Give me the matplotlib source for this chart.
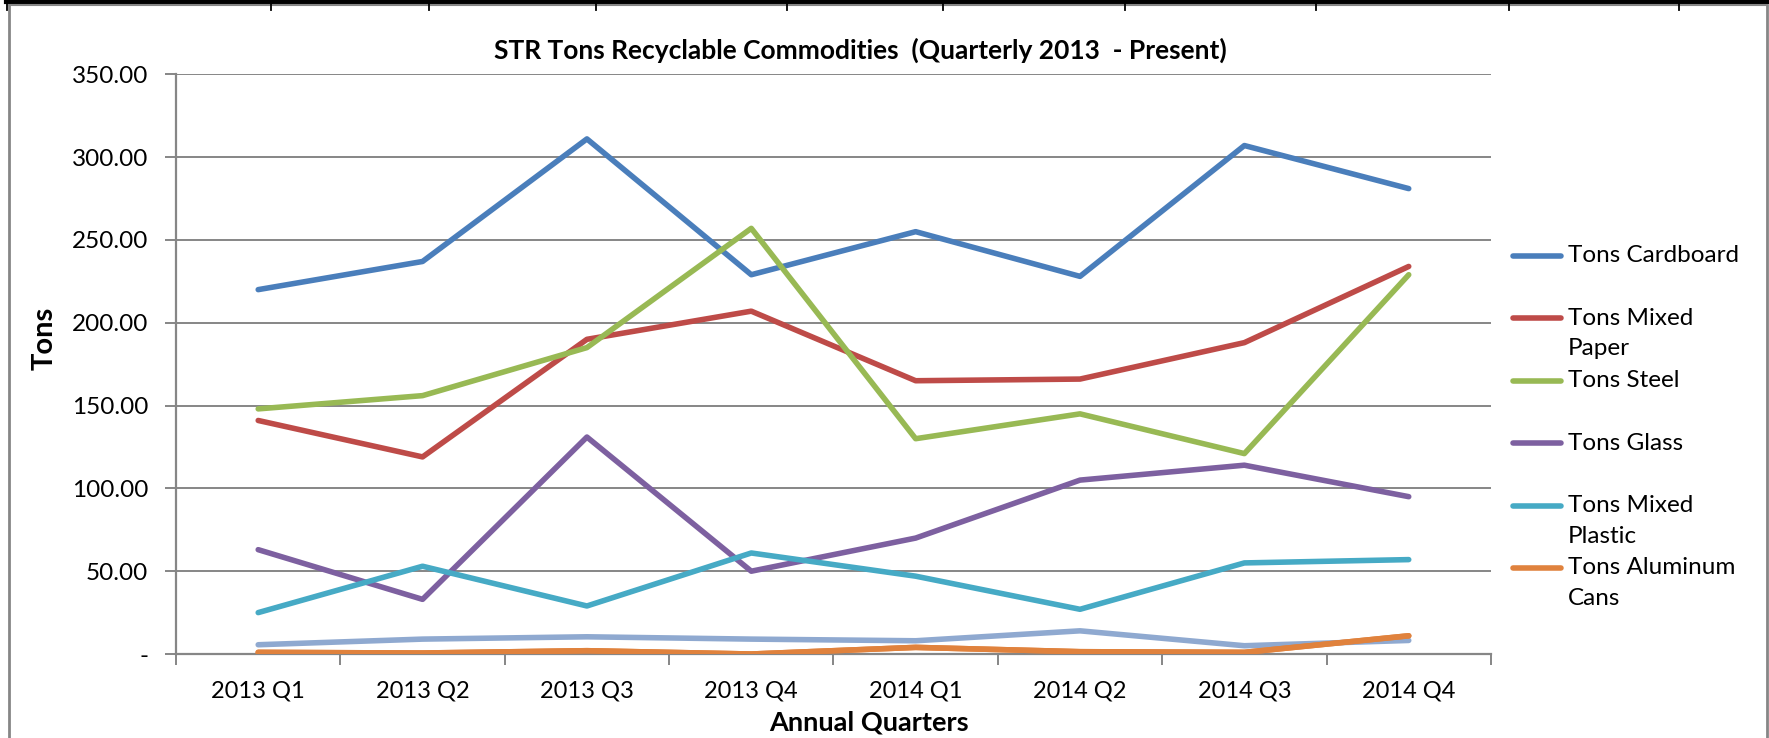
import matplotlib.pyplot as plt
from matplotlib.lines import Line2D
from matplotlib.ticker import FixedLocator, FuncFormatter

plt.rcParams['font.family'] = ['Lato', 'DejaVu Sans']

quarters = ["2013 Q1", "2013 Q2", "2013 Q3", "2013 Q4",
            "2014 Q1", "2014 Q2", "2014 Q3", "2014 Q4"]

cardboard = [220, 237, 311, 229, 255, 228, 307, 281]
mixed_paper = [141, 119, 190, 207, 165, 166, 188, 234]
steel = [148, 156, 185, 257, 130, 145, 121, 229]
glass = [63, 33, 131, 50, 70, 105, 114, 95]
mixed_plastic = [25, 53, 29, 61, 47, 27, 55, 57]
aluminum = [1, 0.6, 2, 0, 4, 1.4, 1, 11]
other = [5.6, 9, 10.4, 9, 8, 14, 5, 8.2]

series_labels = ["Tons Cardboard", "Tons Mixed\nPaper", "Tons Steel",
                 "Tons Glass", "Tons Mixed\nPlastic", "Tons Aluminum\nCans"]
series = [cardboard, mixed_paper, steel, glass, mixed_plastic, aluminum]
colors = ["#4A7EBB", "#BE4B48", "#98B954", "#7D60A0", "#46AAC5", "#E0823D"]
other_color = "#8FA9D0"

fig = plt.figure(figsize=(17.69, 7.38), dpi=100)
ax = fig.add_axes([0.0995, 0.1138, 0.7433, 0.7855])

x = list(range(len(quarters)))
ax.plot(x, other, color=other_color, lw=4, solid_capstyle="round", zorder=3)
for vals, c in zip(series, colors):
    ax.plot(x, vals, color=c, lw=4, solid_capstyle="round", zorder=3)
# aluminium drawn on top of the unlabeled series
ax.plot(x, aluminum, color=colors[5], lw=4, solid_capstyle="round", zorder=4)

ax.set_xlim(-0.5, len(quarters) - 0.5)
ax.set_ylim(0, 350)
ax.set_yticks(range(0, 351, 50))
ax.yaxis.set_major_formatter(FuncFormatter(lambda v, p: "-" if v == 0 else f"{v:.2f}"))
ax.grid(axis="y", color="#868686", lw=1.4, zorder=1)

ax.xaxis.set_major_locator(FixedLocator([i - 0.5 for i in range(len(quarters) + 1)]))
ax.xaxis.set_major_formatter(FuncFormatter(lambda v, p: ""))
ax.xaxis.set_minor_locator(FixedLocator(x))
ax.set_xticklabels(quarters, minor=True)
ax.tick_params(axis="x", which="major", length=8, width=1.4, color="#868686")
ax.tick_params(axis="x", which="minor", length=0, pad=19, labelsize=17)
ax.tick_params(axis="y", length=8, width=1.4, color="#868686", labelsize=17.5, pad=12)

for s in ["top", "right"]:
    ax.spines[s].set_visible(False)
for s in ["left", "bottom"]:
    ax.spines[s].set_color("#868686")
    ax.spines[s].set_linewidth(1.6)

fig.text(860 / 1769, 1 - 50 / 738, "STR Tons Recyclable Commodities  (Quarterly 2013  - Present)",
         ha="center", va="center", fontsize=19, fontweight="bold")
fig.text(45 / 1769, 1 - 338 / 738, "Tons", rotation=90, ha="center", va="center",
         fontsize=21, fontweight="bold")
fig.text(869 / 1769, 1 - 722 / 738, "Annual Quarters", ha="center", va="center",
         fontsize=19.5, fontweight="bold")

# legend, laid out like the spreadsheet one
for i, (lab, c) in enumerate(zip(series_labels, colors)):
    yy = 1 - (256 + i * 62.4) / 738
    fig.add_artist(Line2D([1513 / 1769, 1561 / 1769], [yy, yy], color=c, lw=4,
                          solid_capstyle="round"))
    for j, part in enumerate(lab.split("\n")):
        fig.text(1568 / 1769, yy - j * 30.5 / 738, part, ha="left", va="center",
                 fontsize=17.5)

# chart frame and sheet cell borders
H = 738.0
W = 1769.0
fig.add_artist(Line2D([6 / W, 1 - 1 / W], [1 - 2 / H, 1 - 2 / H], color="black", lw=3))
fig.add_artist(Line2D([9 / W, 9 / W], [0, 1 - 5 / H], color="#868686", lw=2))
fig.add_artist(Line2D([1767 / W, 1767 / W], [0, 1 - 5 / H], color="#868686", lw=2))
fig.add_artist(Line2D([9 / W, 1767 / W], [1 - 5 / H, 1 - 5 / H], color="#868686", lw=1.5))
for xs in [7, 271, 429, 596, 787, 943, 1125, 1316, 1509, 1679]:
    fig.add_artist(Line2D([xs / W, xs / W], [1, 1 - 10 / H], color="black", lw=1.3))

fig.savefig("out.png", dpi=100, facecolor="white")
